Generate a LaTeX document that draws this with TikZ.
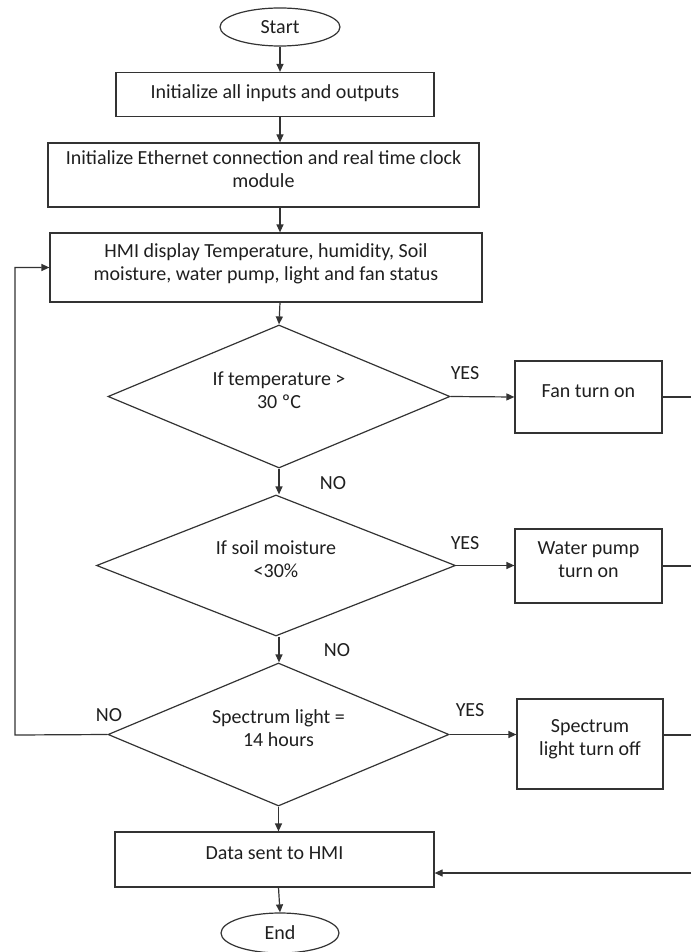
\documentclass[tikz,border=0pt]{standalone}
\usepackage{fontspec}
\setmainfont{Carlito}
\usepackage{tikz}
\usetikzlibrary{shapes.geometric, arrows.meta}
\definecolor{linegray}{HTML}{333333}
\definecolor{textgray}{HTML}{1F1F1F}
\tikzset{
  term/.style={draw=linegray, ellipse, text=textgray, inner sep=0pt},
  box/.style={draw=linegray, rectangle, align=center, text=textgray, inner sep=2pt, text depth=12pt},
  dec/.style={draw=linegray, diamond, aspect=2.4, align=center, text=textgray, inner sep=0pt, text depth=13pt},
  lbl/.style={text=textgray},
  flow/.style={draw=linegray, -{Triangle[length=8pt,width=7pt]}}
}

\begin{document}
\begin{tikzpicture}[x=1pt, y=-1pt, line width=1.2pt, font=\fontsize{20}{23}\selectfont]
  \useasboundingbox (0,0) rectangle (691,952);
  % Terminals and process boxes
  \node [term, minimum width=120pt, minimum height=38pt] (start) at (280,27) {Start};
  \node [box, minimum width=318pt, minimum height=44pt, text depth=6pt] (init) at (275,94.5) {Initialize all inputs and outputs};
  \node [box, minimum width=431pt, minimum height=64pt] (eth) at (263.5,175) {Initialize Ethernet connection and real time clock\\module};
  \node [box, minimum width=432pt, minimum height=69pt, text depth=10pt] (hmi) at (266,267.5) {HMI display Temperature, humidity, Soil\\moisture, water pump, light and fan status};
  % Decisions
  \node [dec, minimum width=342pt, minimum height=143pt] (temp) at (279,396.5) {If temperature >\\30 ºC};
  \node [dec, minimum width=359pt, minimum height=141pt] (soil) at (276,565.5) {If soil moisture\\<30\%};
  \node [dec, minimum width=341pt, minimum height=143pt] (light) at (278.5,734.5) {Spectrum light =\\14 hours};
  % Actions
  \node [box, minimum width=147pt, minimum height=72pt] (fan) at (588.5,397) {Fan turn on};
  \node [box, minimum width=147pt, minimum height=74pt] (pump) at (588.5,566) {Water pump\\turn on};
  \node [box, minimum width=146pt, minimum height=90pt] (spec) at (590,744) {Spectrum\\light turn off};
  \node [box, minimum width=319pt, minimum height=55pt] (data) at (274.5,859.5) {Data sent to HMI};
  \node [term, minimum width=118pt, minimum height=40pt] (end) at (280,933) {End};
  % Labels
  \node [lbl] (yes1) at (465,373) {YES};
  \node [lbl] (yes2) at (465,543) {YES};
  \node [lbl] (yes3) at (470,710) {YES};
  \node [lbl] (no1) at (333,483) {NO};
  \node [lbl] (no2) at (337,650) {NO};
  \node [lbl] (no3) at (109,715) {NO};
  % Free ends at the right edge and the loop corner
  \coordinate (fanout)  at (691,397);
  \coordinate (pumpout) at (691,566);
  \coordinate (specout) at (691,735);
  \coordinate (datain)  at (691,873);
  \coordinate (loop)    at (15,735);
  % Main flow
  \draw [flow] (start.south) -- (start.south |- init.north);
  \draw [flow] (start.south |- init.south) -- (start.south |- eth.north);
  \draw [flow] (start.south |- eth.south) -- (start.south |- hmi.north);
  \draw [flow] (start.south |- hmi.south) -- (temp.north);
  \draw [flow] (temp.south) -- (temp.south |- soil.north);
  \draw [flow] (temp.south |- soil.south) -- (temp.south |- light.north);
  \draw [flow] (light.south) -- (light.south |- data.north);
  \draw [flow] (light.south |- data.south) -- (end.north);
  % Yes branches
  \draw [flow] (temp.east) -- (fan.west);
  \draw [flow] (soil.east) -- (soil.east -| pump.west);
  \draw [flow] (light.east) -- (light.east -| spec.west);
  \foreach \n/\o in {fan/fanout, pump/pumpout, spec/specout}
    \draw [linegray] (\n.east |- \o) -- (\o);
  \draw [flow] (datain) -- (datain -| data.east);
  % Loop back
  \draw [flow] (light.west) -- (loop) |- (hmi.west);
\end{tikzpicture}
\end{document}
